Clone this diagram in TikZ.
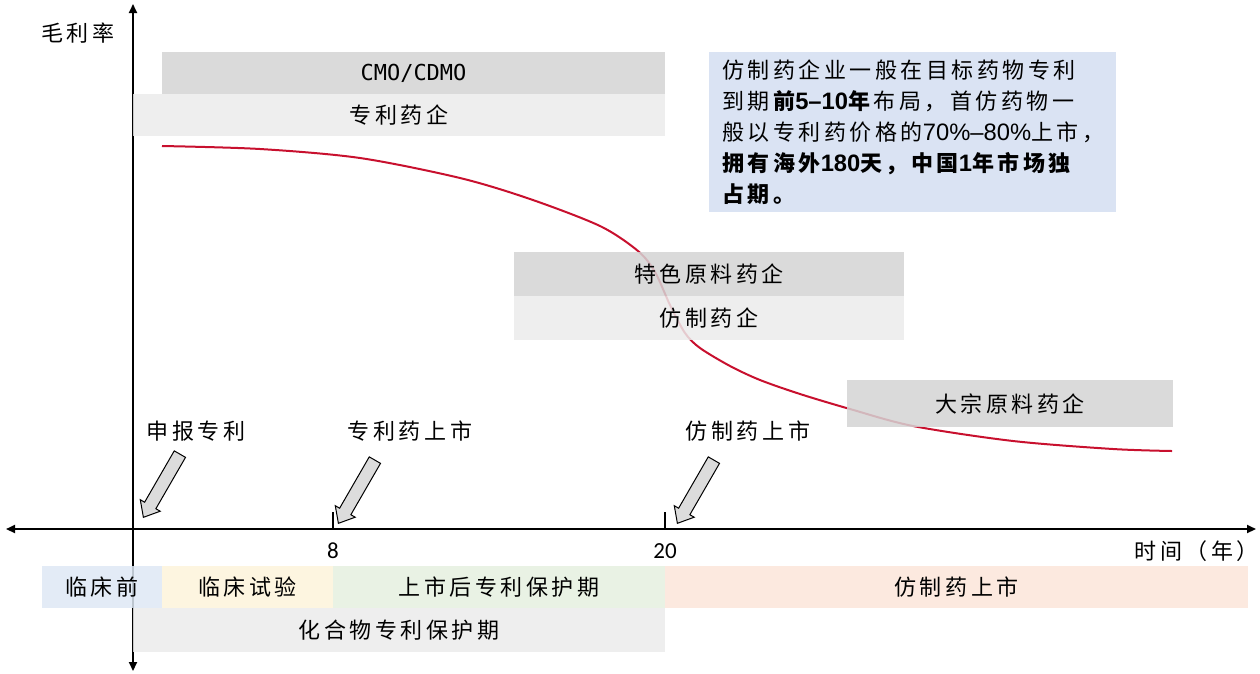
\documentclass[tikz,border=0pt]{standalone}
\usepackage{fontspec}
\setmainfont{Noto Sans CJK SC}[LetterSpace=16]
\newfontfamily\lat{Liberation Sans}[Scale=1.08]
\newfontfamily\latm{DejaVu Sans Mono}
\newfontfamily\num{Carlito}
\usetikzlibrary{shapes.arrows,arrows.meta}
\definecolor{darkbox}{HTML}{D4D4D4}
\definecolor{lightbox}{HTML}{EBEBEB}
\definecolor{noteblue}{HTML}{DAE3F3}
\definecolor{preblue}{HTML}{DEE8F4}
\definecolor{clinyellow}{HTML}{FDF3DA}
\definecolor{postgreen}{HTML}{E5F0DF}
\definecolor{genpink}{HTML}{FBE5D9}
\definecolor{curvered}{HTML}{C8102E}
\definecolor{arrowgray}{HTML}{DCDCDC}
\begin{document}
\begin{tikzpicture}[x=1pt,y=-1pt,
  axis/.style={line width=2pt,{Triangle[length=9pt,width=8pt]}-{Triangle[length=9pt,width=8pt]}},
  tickline/.style={line width=2pt},
  bar/.style={draw=none,inner sep=0pt,outer sep=0pt,anchor=north west,fill opacity=0.85,text opacity=1,font=\fontsize{22}{26}\selectfont},
  curve/.style={draw=curvered,line width=2pt},
  hollow/.style={single arrow,draw=black,line width=1pt,fill=arrowgray,minimum height=73pt,inner sep=6pt,single arrow head extend=5pt,single arrow tip angle=80,anchor=tip,rotate=240},
  lab/.style={inner sep=0pt,font=\fontsize{22}{26}\selectfont},
  numlab/.style={inner sep=0pt,font=\num\fontsize{23}{26}\selectfont},
  note/.style={anchor=north west,fill=noteblue,minimum width=407pt,minimum height=160pt,text width=381pt,inner xsep=13pt,inner ysep=0pt,align=left,font=\fontsize{22}{31}\selectfont}
]
\useasboundingbox (0,0) rectangle (1260,673);
% axes
\coordinate (yb) at (133,671);
\coordinate (yt) at (133,4);
\coordinate (xl) at (6,529);
\coordinate (xr) at (1256,529);
\draw[axis] (yb) -- (yt);
\draw[axis] (xl) -- (xr);
\coordinate (t8) at (333,529);
\coordinate (t20) at (665,529);
\draw[tickline] (t8) -- ++(0,-17);
\draw[tickline] (t20) -- ++(0,-17);
% curve
\draw[curve] plot[smooth,tension=0.5] coordinates {(162,146) (260,149) (360,158) (460,178) (530,199) (600,226) (638,251) (655,272) (670,305) (685,333) (700,348) (730,366) (760,380) (800,394) (850,409) (913,426) (1013,441) (1113,449) (1172,451)};
% top boxes
\node[bar,fill=darkbox,minimum width=503pt,minimum height=42pt] (cmo) at (162,52) {\latm\fontsize{22}{24}\selectfont CMO/CDMO};
\node[bar,fill=lightbox,minimum width=532pt,minimum height=42pt] (pat) at (133,94) {专利药企};
\node[bar,fill=darkbox,minimum width=390pt,minimum height=44pt] (spec) at (514,252) {特色原料药企};
\node[bar,fill=lightbox,minimum width=390pt,minimum height=44pt] (genco) at (514,296) {仿制药企};
\node[bar,fill=darkbox,minimum width=326pt,minimum height=47pt] (bulk) at (847,380) {大宗原料药企};
% note
\node[note] (txt) at (709,52) {仿制药企业一般在目标药物专利\\到期\textbf{前\lat 5–10}\textbf{年}布局，首仿药物一\\\mbox{般以专利药价格的{\lat 70\%–80\%}上市，}\\\textbf{拥有海外{\lat 180}天，中国{\lat 1}年市场独}\\\textbf{占期。}};
% bottom bars
\node[bar,fill=preblue,minimum width=120pt,minimum height=42pt] (pre) at (42,566) {临床前};
\node[bar,fill=clinyellow,minimum width=171pt,minimum height=42pt] (clin) at (162,566) {临床试验};
\node[bar,fill=postgreen,minimum width=332pt,minimum height=42pt] (post) at (333,566) {上市后专利保护期};
\node[bar,fill=genpink,minimum width=583pt,minimum height=42pt] (gen) at (665,566) {仿制药上市};
\node[bar,fill=lightbox,minimum width=532pt,minimum height=44pt] (comp) at (133,608) {化合物专利保护期};
% arrows
\node[hollow] (a1) at (143,518) {};
\node[hollow] (a2) at (338,524) {};
\node[hollow] (a3) at (677,524) {};
% labels
\node[lab] (l1) at (196,431) {申报专利};
\node[lab] (l2) at (410,431) {专利药上市};
\node[lab] (l3) at (748,431) {仿制药上市};
\node[lab] (ylab) at (78,33) {毛利率};
\node[lab,anchor=east] (xlab) at (1259,551) {时间（年）};
\node[numlab] (n8) at (333,551) {8};
\node[numlab] (n20) at (665,551) {20};
\end{tikzpicture}
\end{document}
